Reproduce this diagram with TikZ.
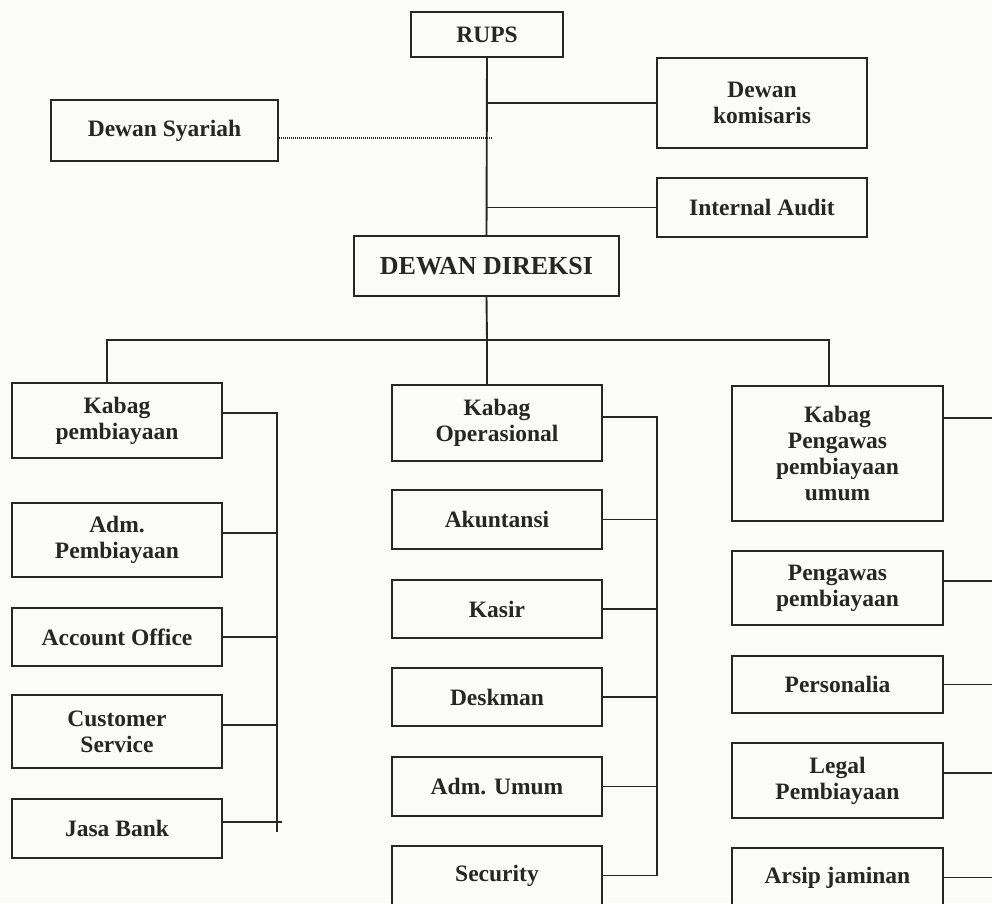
\documentclass[tikz,border=0pt]{standalone}
\usepackage{fontspec}
\setmainfont{Liberation Serif}
\definecolor{ink}{HTML}{262626}
\definecolor{paper}{HTML}{FBFBF9}
\begin{document}
\begin{tikzpicture}[x=1pt,y=-1pt,
  box/.style={draw=ink, line width=1.9pt, fill=paper, inner sep=0pt, align=center,
    font=\fontsize{23.5}{26}\selectfont\bfseries, text=ink},
  wh/.style 2 args={minimum width=#1pt, minimum height=#2pt},
  conn/.style={draw=ink, line width=1.9pt},
  dotconn/.style={draw=ink, line width=1.3pt, dash pattern=on 1pt off 1pt}]
\clip (0,0) rectangle (992,903);
\fill[paper] (0,0) rectangle (992,903);
% top level
\node[box, wh={152}{45}] (rups) at (487,34.5) {RUPS};
\node[box, wh={210}{90}] (kom) at (762,103) {Dewan\\komisaris};
\node[box, wh={227}{61}] (syar) at (164.5,130.5) {Dewan Syariah};
\node[box, wh={210}{59}] (audit) at (762,207.5) {Internal Audit};
\node[box, wh={265}{60}, font=\fontsize{26}{28}\selectfont\bfseries] (dir) at (486.5,266) {DEWAN DIREKSI};
% left column
\node[box, wh={210}{75}] (kpb) at (117,420.5) {Kabag\\pembiayaan};
\node[box, wh={210}{74}] (adm) at (117,540) {Adm.\\Pembiayaan};
\node[box, wh={210}{58}] (acc) at (117,637) {Account Office};
\node[box, wh={210}{73}] (cs) at (117,731.5) {Customer\\Service};
\node[box, wh={210}{59}] (jasa) at (117,828.5) {Jasa Bank};
% middle column
\node[box, wh={210}{76}] (kop) at (497,423) {Kabag\\Operasional};
\node[box, wh={210}{59}] (akt) at (497,519.5) {Akuntansi};
\node[box, wh={210}{58}] (kas) at (497,609) {Kasir};
\node[box, wh={210}{58}] (desk) at (497,697) {Deskman};
\node[box, wh={210}{59}] (admu) at (497,786.5) {Adm. Umum};
\node[box, wh={210}{59}] (sec) at (497,875.5) {Security};
% right column
\node[box, wh={211}{135}] (kpu) at (837.5,453.5) {Kabag\\Pengawas\\pembiayaan\\umum};
\node[box, wh={211}{74}] (pp) at (837.5,588) {Pengawas\\pembiayaan};
\node[box, wh={211}{57}] (pers) at (837.5,684.5) {Personalia};
\node[box, wh={211}{75}] (legal) at (837.5,780.5) {Legal\\Pembiayaan};
\node[box, wh={211}{59}] (arsip) at (837.5,877.5) {Arsip jaminan};
% coordinates
\coordinate (dotend) at (492,138);
\coordinate (bl) at (107,340);
\coordinate (bm) at (487,340);
\coordinate (br) at (829,340);
\coordinate (lb) at (277,413);
\coordinate (lbend) at (277,832);
\coordinate (mb) at (657,417);
\coordinate (rb) at (1000,0);
% top connectors
\draw[conn] (rups.south) -- (dir.north);
\draw[conn] (kom.west -| rups.south) -- (kom.west);
\draw[conn] (audit.west -| rups.south) -- (audit.west);
\draw[dotconn] ([yshift=-7.5pt]syar.east) -- (dotend);
\draw[conn] (dir.south) -- (bm);
\draw[conn] (kpb.north -| bl) -- (bl) -- (br) -- (kpu.north -| br);
\draw[conn] (bm) -- (kop.north -| bm);
% left bus
\draw[conn] ([yshift=7.5pt]kpb.east) -- (lb) -- (lbend);
\draw[conn] ([yshift=7pt]adm.east) -- ([yshift=7pt]adm.east -| lb);
\draw[conn] (acc.east) -- (acc.east -| lb);
\draw[conn] ([yshift=6.5pt]cs.east) -- ([yshift=6.5pt]cs.east -| lb);
\draw[conn] ([yshift=6.5pt]jasa.east) -- ([yshift=6.5pt,xshift=5pt]jasa.east -| lb);
% middle bus
\draw[conn] ([yshift=6pt]kop.east) -- (mb) -- (sec.east -| mb) -- (sec.east);
\draw[conn] (akt.east) -- (akt.east -| mb);
\draw[conn] (kas.east) -- (kas.east -| mb);
\draw[conn] (desk.east) -- (desk.east -| mb);
\draw[conn] (admu.east) -- (admu.east -| mb);
% right lines
\draw[conn] ([yshift=35.5pt]kpu.east) -- ([yshift=35.5pt]kpu.east -| rb);
\draw[conn] ([yshift=7pt]pp.east) -- ([yshift=7pt]pp.east -| rb);
\draw[conn] (pers.east) -- (pers.east -| rb);
\draw[conn] ([yshift=7.5pt]legal.east) -- ([yshift=7.5pt]legal.east -| rb);
\draw[conn] (arsip.east) -- (arsip.east -| rb);
\end{tikzpicture}
\end{document}
